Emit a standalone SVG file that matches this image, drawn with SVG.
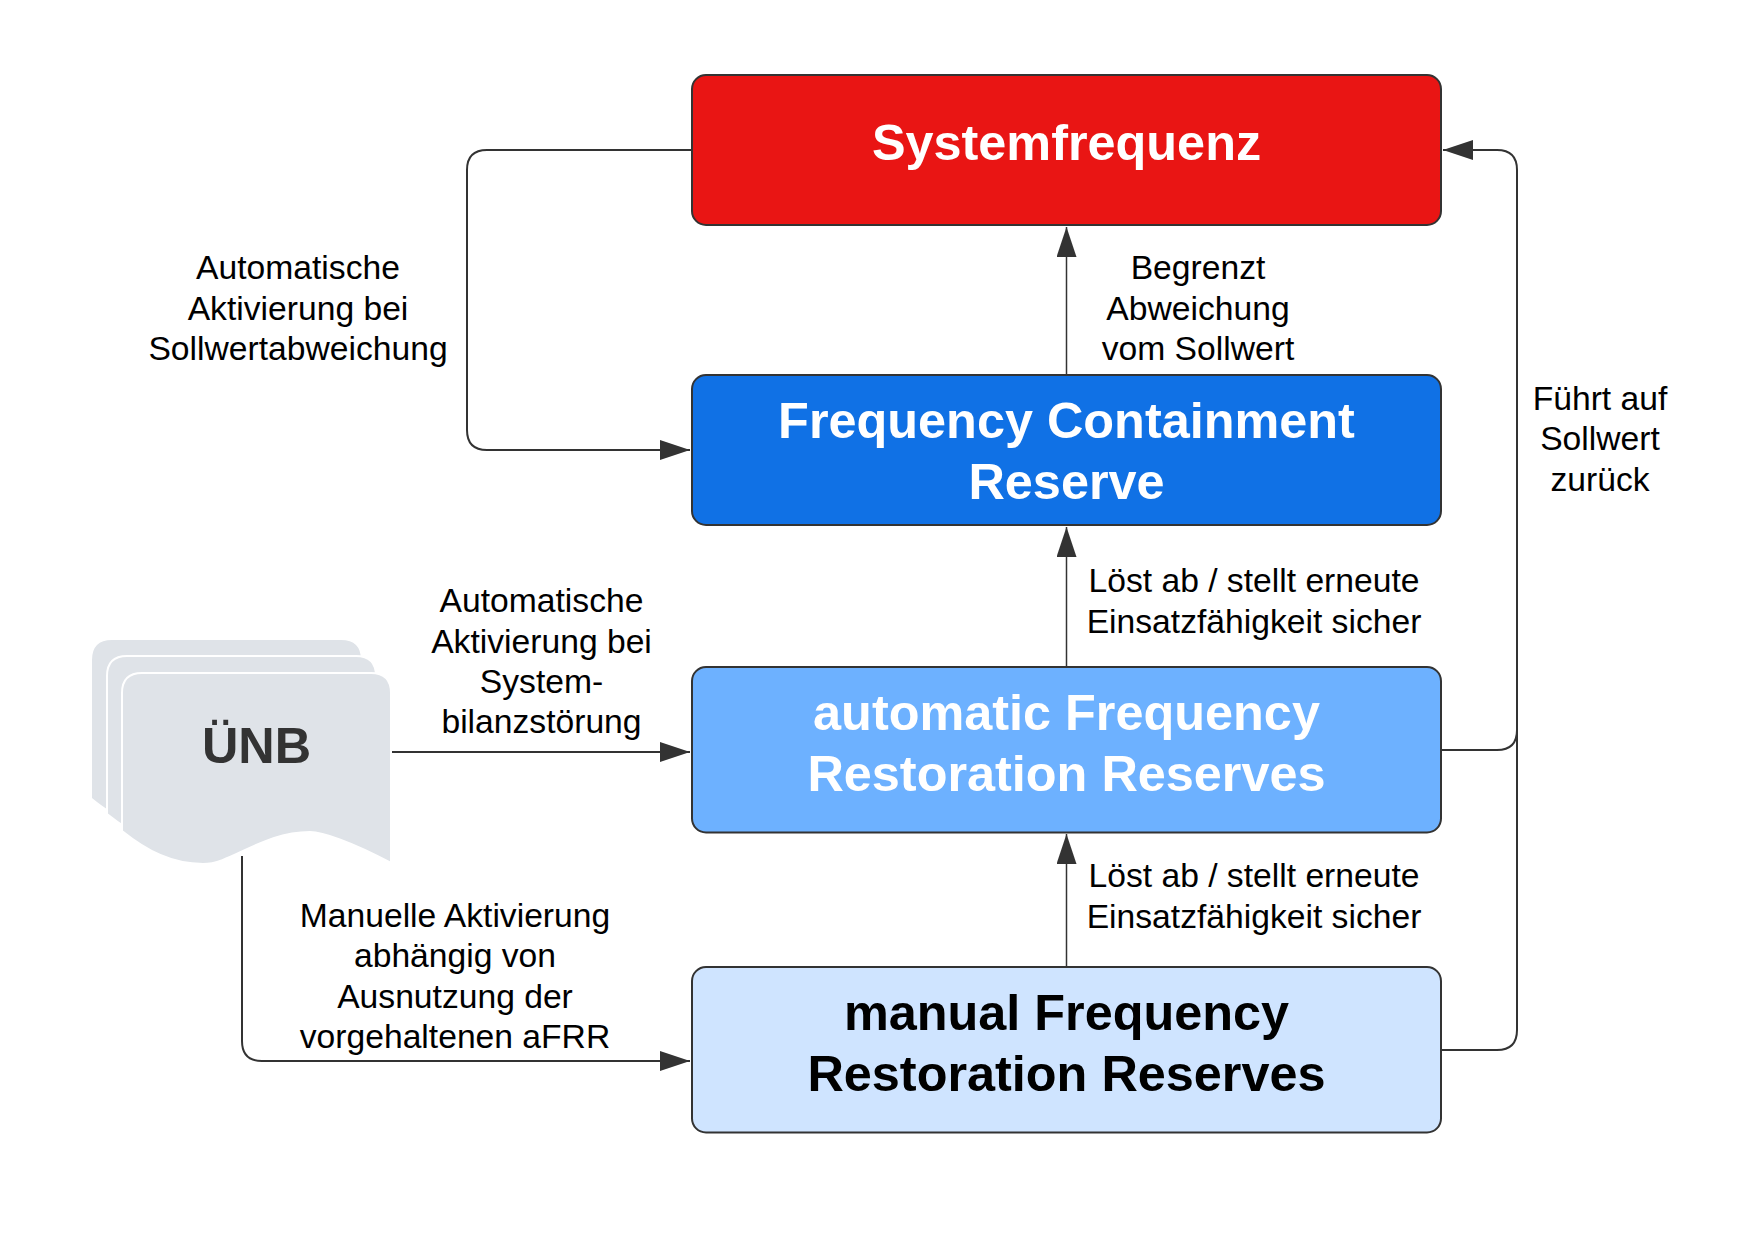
<svg xmlns="http://www.w3.org/2000/svg" width="1761" height="1247" viewBox="0 0 1761 1247">
<defs>
<marker id="ah" markerUnits="userSpaceOnUse" markerWidth="30" markerHeight="20" refX="30" refY="10" orient="auto"><path d="M0 0L30 10L0 20Z" fill="#333"/></marker>
<path id="doc" d="M0 20Q0 0 20 0H249Q269 0 269 20V190C230 169 200 159 188 159C140 159 110 191 81 191C50 191 25 178 0 158Z"/>
</defs>
<style>
text{font-family:"Liberation Sans",Arial,sans-serif;text-anchor:middle}
.l{font-size:33.65px;fill:#000}
.t{font-size:50.4px;font-weight:700}
.box{stroke:#333;stroke-width:2}
.c{fill:none;stroke:#333;stroke-width:2}
.v{stroke-width:1.5}
.a{marker-end:url(#ah)}
</style>
<rect width="1761" height="1247" fill="#fff"/>
<g id="connectors">
<path class="c a" d="M692 150H487Q467 150 467 170V430Q467 450 487 450H690"/>
<path class="c a v" d="M1066.500 375V227"/>
<path class="c a v" d="M1066.500 667V527"/>
<path class="c a v" d="M1066.500 967V834"/>
<path class="c a" d="M1441 750H1497Q1517 750 1517 730V170Q1517 150 1497 150H1443"/>
<path class="c" d="M1441 1050H1497Q1517 1050 1517 1030V730"/>
<path class="c a" d="M392 752H690"/>
<path class="c a" d="M242 856V1041Q242 1061 262 1061H690"/>
</g>
<g id="system"><rect class="box" x="692" y="75" width="749" height="150" rx="14" fill="#e91514"/><text class="t" x="1066.500" y="160" fill="#fff">Systemfrequenz</text></g>
<g id="fcr"><rect class="box" x="692" y="375" width="749" height="150" rx="14" fill="#1071e5"/><text class="t" x="1066.500" y="438" fill="#fff">Frequency Containment</text><text class="t" x="1066.500" y="498.500" fill="#fff">Reserve</text></g>
<g id="afrr"><rect class="box" x="692" y="667" width="749" height="165.500" rx="14" fill="#6db1ff"/><text class="t" x="1066.500" y="730" fill="#fff">automatic Frequency</text><text class="t" x="1066.500" y="791" fill="#fff">Restoration Reserves</text></g>
<g id="mfrr"><rect class="box" x="692" y="967" width="749" height="165.500" rx="14" fill="#cfe4ff"/><text class="t" x="1066.500" y="1030" fill="#000">manual Frequency</text><text class="t" x="1066.500" y="1091" fill="#000">Restoration Reserves</text></g>
<g id="unb">
<use href="#doc" x="92" y="640" fill="#dfe3e8"/>
<use href="#doc" x="107" y="656" fill="#dfe3e8" stroke="#fff" stroke-width="2"/>
<use href="#doc" x="122" y="673" fill="#dfe3e8" stroke="#fff" stroke-width="2"/>
<text x="256.500" y="763" font-size="50.4" font-weight="700" fill="#333">ÜNB</text>
</g>
<g id="labels">
<text class="l" x="298" y="279">Automatische</text><text class="l" x="298" y="319.500">Aktivierung bei</text><text class="l" x="298" y="360">Sollwertabweichung</text>
<text class="l" x="1198" y="279">Begrenzt</text><text class="l" x="1198" y="319.500">Abweichung</text><text class="l" x="1198" y="360">vom Sollwert</text>
<text class="l" x="1600" y="410">Führt auf</text><text class="l" x="1600" y="450">Sollwert</text><text class="l" x="1600" y="490.500">zurück</text>
<text class="l" x="1254" y="592">Löst ab / stellt erneute</text><text class="l" x="1254" y="633">Einsatzfähigkeit sicher</text>
<text class="l" x="1254" y="887">Löst ab / stellt erneute</text><text class="l" x="1254" y="927.500">Einsatzfähigkeit sicher</text>
<text class="l" x="541.500" y="612">Automatische</text><text class="l" x="541.500" y="652.500">Aktivierung bei</text><text class="l" x="541.500" y="693">System-</text><text class="l" x="541.500" y="733">bilanzstörung</text>
<text class="l" x="455" y="927">Manuelle Aktivierung</text><text class="l" x="455" y="967">abhängig von</text><text class="l" x="455" y="1007.500">Ausnutzung der</text><text class="l" x="455" y="1048">vorgehaltenen aFRR</text>
</g>
</svg>
